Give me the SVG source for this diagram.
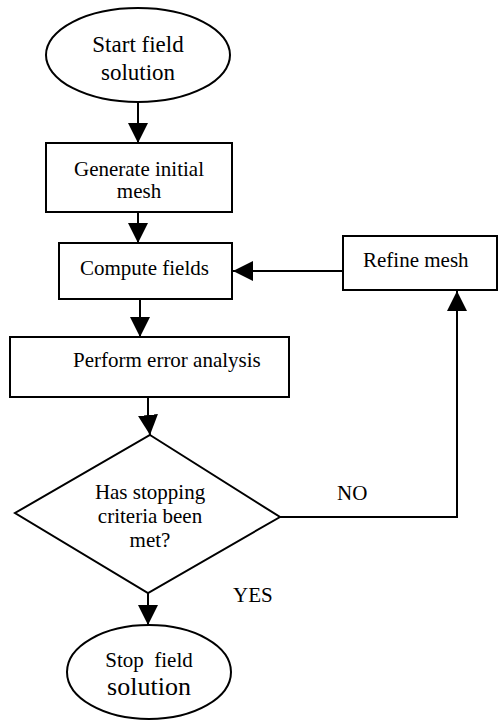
<svg xmlns="http://www.w3.org/2000/svg" width="498" height="722" viewBox="0 0 498 722">
<style>
.s{fill:#fff;stroke:#000;stroke-width:2}
.t{font-family:'Liberation Serif','Tinos','DejaVu Serif','Noto Serif',serif;font-size:21px;fill:#000}
.c{text-anchor:middle}
.big{font-size:23px}
.big2{font-size:26px}
.ln{fill:none;stroke:#000;stroke-width:2}
</style>
<defs>
<marker id="ah" markerWidth="20" markerHeight="20" viewBox="0 0 20 20" refX="20" refY="10" orient="auto" markerUnits="userSpaceOnUse">
<path d="M0,0 L20,10 L0,20 Z" fill="#000"/>
</marker>
</defs>
<rect width="498" height="722" fill="#fff"/>
<g id="connectors">
<line class="ln" x1="138" y1="103" x2="138" y2="143" marker-end="url(#ah)"/>
<line class="ln" x1="138" y1="212" x2="138" y2="243" marker-end="url(#ah)"/>
<line class="ln" x1="140" y1="299" x2="140" y2="337" marker-end="url(#ah)"/>
<polyline class="ln" points="148,397 148,415 150,435" marker-end="url(#ah)"/>
<line class="ln" x1="343" y1="271" x2="233" y2="271" marker-end="url(#ah)"/>
<polyline class="ln" points="280,517 457,517 457,291" marker-end="url(#ah)"/>
<line class="ln" x1="148" y1="593" x2="148" y2="625" marker-end="url(#ah)"/>
<text class="t" x="337" y="500">NO</text>
<text class="t" x="233" y="602">YES</text>
</g>
<g id="start">
<ellipse class="s" cx="138" cy="55" rx="92" ry="47"/>
<text class="t c big" x="138" y="52">Start field</text>
<text class="t c big" x="138" y="80">solution</text>
</g>
<g id="generate">
<rect class="s" x="46" y="143" width="186" height="69"/>
<text class="t c" x="139" y="176">Generate initial</text>
<text class="t c" x="139" y="198">mesh</text>
</g>
<g id="compute">
<rect class="s" x="59" y="243" width="173" height="56"/>
<text class="t" x="80" y="275">Compute fields</text>
</g>
<g id="refine">
<rect class="s" x="343" y="236" width="154" height="54"/>
<text class="t" x="363" y="267">Refine mesh</text>
</g>
<g id="perform">
<rect class="s" x="10" y="337" width="279" height="60"/>
<text class="t" x="73" y="367">Perform error analysis</text>
</g>
<g id="decision">
<polygon class="s" points="150,435 280,517 148,593 15,513"/>
<text class="t c" x="150" y="499">Has stopping</text>
<text class="t c" x="150" y="523">criteria been</text>
<text class="t c" x="150" y="547">met?</text>
</g>
<g id="stop">
<ellipse class="s" cx="149" cy="672" rx="82" ry="47"/>
<text class="t c" x="149" y="667" xml:space="preserve">Stop  field</text>
<text class="t c big2" x="149" y="695">solution</text>
</g>
</svg>
